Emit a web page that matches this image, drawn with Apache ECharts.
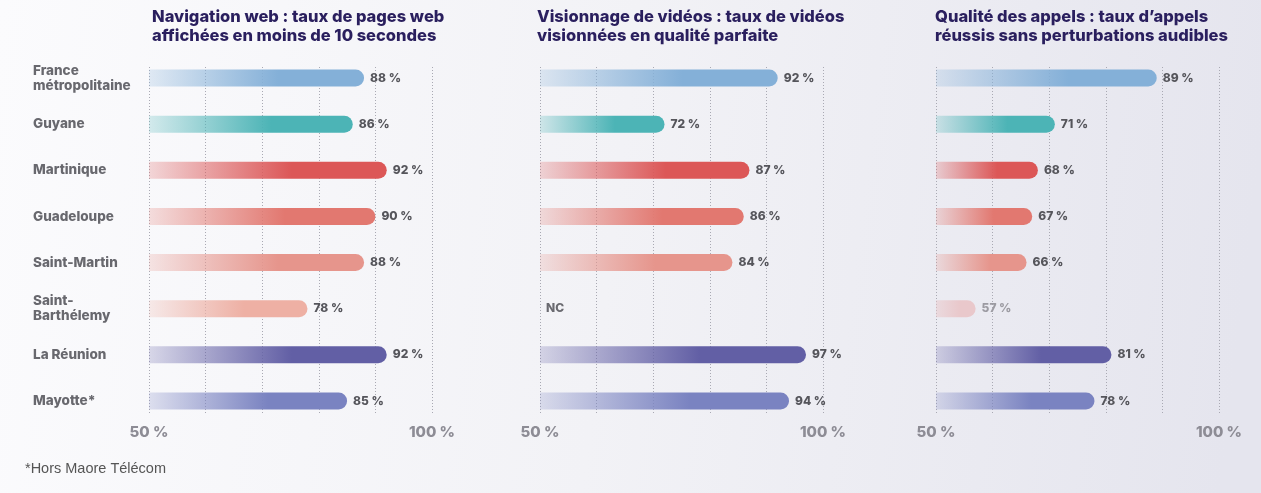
<!DOCTYPE html>
<html>
<head>
<meta charset="utf-8">
<script src="https://cdn.jsdelivr.net/npm/echarts@6/dist/echarts.min.js"></script>
<style>
  html, body { margin: 0; padding: 0; }
  #chart { width: 1261px; height: 493px; }
</style>
</head>
<body>
<div id="chart"></div>
<script>
// territoires (haut -> bas)
const categories = ['France\nmétropolitaine', 'Guyane', 'Martinique', 'Guadeloupe', 'Saint-Martin', 'Saint-\nBarthélemy', 'La Réunion', 'Mayotte*']
// taux en %, null = NC
const navigationWeb = [88, 86, 92, 90, 88, 78, 92, 85]
const visionnageVideos = [92, 72, 87, 86, 84, null, 97, 94]
const qualiteAppels = [89, 71, 68, 67, 66, 57, 81, 78]
const panelTitles = [
  'Navigation web : taux de pages web\naffichées en moins de 10 secondes',
  'Visionnage de vidéos : taux de vidéos\nvisionnées en qualité parfaite',
  'Qualité des appels : taux d’appels\nréussis sans perturbations audibles'
]
const axisTicks = [50, 60, 70, 80, 90, 100]
const footnote = '*Hors Maore Télécom'

// couleur de chaque territoire
const barColors = ['#84b0d8', '#4cb4b6', '#dc5757', '#e27870', '#e6958c', '#eeb0a4', '#625fa5', '#7a83c1']
const panelLefts = [149, 540, 936]
const panels = [navigationWeb, visionnageVideos, qualiteAppels]
const FONT = 'Inter, Lato, sans-serif'

const hexToRgba = (hex, a) => {
  const n = parseInt(hex.slice(1), 16)
  return 'rgba(' + (n >> 16) + ',' + ((n >> 8) & 255) + ',' + (n & 255) + ',' + a + ')'
}

const myChart = echarts.init(document.getElementById('chart'))

const grid = []
const xAxis = []
const yAxis = []
const series = []

panels.forEach((values, p) => {
  // grille des pointillés
  grid.push({ left: panelLefts[p], width: 283, top: 67, height: 346 })
})
panels.forEach((values, p) => {
  // grille des barres
  grid.push({ left: panelLefts[p], width: 283, top: 55, height: 369 })
})

panels.forEach((values, p) => {
  xAxis.push({
    gridIndex: p,
    type: 'value',
    min: axisTicks[0],
    max: axisTicks[axisTicks.length - 1],
    interval: axisTicks[1] - axisTicks[0],
    axisLine: { show: false },
    axisTick: { show: false },
    axisLabel: {
      margin: 12,
      fontFamily: FONT,
      fontWeight: 800,
      fontSize: 15,
      color: '#8d8c95',
      formatter: (v) => (v === axisTicks[0] || v === axisTicks[axisTicks.length - 1]) ? v + ' %' : ''
    },
    splitLine: {
      show: true,
      lineStyle: { color: '#a9a9b3', width: 1, type: [1, 2] }
    }
  })
  yAxis.push({ gridIndex: p, type: 'category', data: categories, show: false })
})

panels.forEach((values, p) => {
  xAxis.push({
    gridIndex: 3 + p,
    type: 'value',
    min: axisTicks[0],
    max: axisTicks[axisTicks.length - 1],
    show: false
  })
  yAxis.push({
    gridIndex: 3 + p,
    type: 'category',
    inverse: true,
    data: categories,
    axisLine: { show: false },
    axisTick: { show: false },
    axisLabel: {
      show: p === 0,
      align: 'left',
      margin: 116,
      fontFamily: FONT,
      fontWeight: 800,
      fontSize: 13.5,
      lineHeight: 15,
      color: '#68686e'
    }
  })

  series.push({
    type: 'bar',
    xAxisIndex: 3 + p,
    yAxisIndex: 3 + p,
    barWidth: 17,
    label: {
      show: true,
      position: 'right',
      distance: 6,
      fontFamily: FONT,
      fontWeight: 800,
      fontSize: 12,
      color: '#55555b',
      formatter: (params) => params.data.nc ? 'NC' : params.value + ' %'
    },
    data: values.map((v, i) => {
      // NC : pas de barre, juste le texte
      if (v === null) {
        return { value: axisTicks[0], nc: true, itemStyle: { color: 'transparent' }, label: { color: '#6a6a70' } }
      }
      const faded = p === 2 && i === 5
      const col = faded ? '#e9c8cb' : barColors[i]
      return {
        value: v,
        itemStyle: {
          borderRadius: [0, 9, 9, 0],
          color: new echarts.graphic.LinearGradient(0, 0, 1, 0, [
            { offset: 0, color: hexToRgba(col, faded ? 0.5 : 0.22) },
            { offset: 0.6, color: col },
            { offset: 1, color: col }
          ])
        },
        label: faded ? { color: '#9c9ba2' } : {}
      }
    })
  })
})

myChart.setOption({
  backgroundColor: new echarts.graphic.LinearGradient(0, 0, 1, 0.3, [
    { offset: 0, color: '#fbfbfd' },
    { offset: 0.5, color: '#f2f2f6' },
    { offset: 1, color: '#e5e5ee' }
  ]),
  title: panelTitles.map((t, p) => ({
    text: t,
    left: [152, 537, 935][p],
    top: 8,
    padding: 0,
    textStyle: {
      fontFamily: FONT,
      fontWeight: 800,
      fontSize: 16.5,
      lineHeight: 19,
      color: '#2a1f5e'
    }
  })),
  graphic: [{
    type: 'text',
    left: 25,
    top: 461,
    style: {
      text: footnote,
      font: '14.5px "Liberation Sans", Arial, sans-serif',
      fill: '#555'
    }
  }],
  grid: grid,
  xAxis: xAxis,
  yAxis: yAxis,
  series: series
})
</script>
</body>
</html>
